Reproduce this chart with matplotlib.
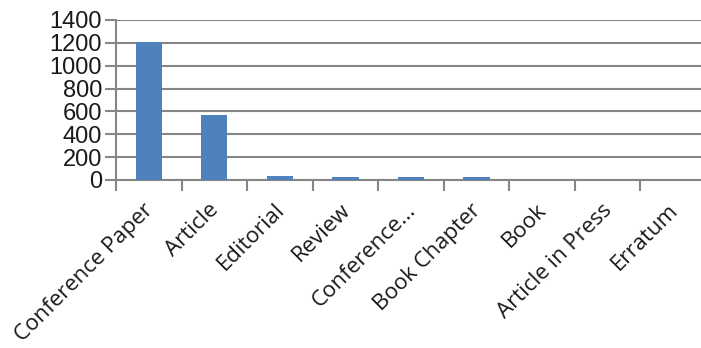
import matplotlib.pyplot as plt
from matplotlib.transforms import ScaledTranslation

# Document types and their counts
doc_types = ['Conference Paper', 'Article', 'Editorial', 'Review', 'Conference...',
             'Book Chapter', 'Book', 'Article in Press', 'Erratum']
counts = [1210, 566, 38, 30, 28, 28, 2, 1, 1]
y_ticks = [0, 200, 400, 600, 800, 1000, 1200, 1400]

grey = '#868686'

fig = plt.figure(figsize=(7.01, 3.48), dpi=100)
ax = fig.add_axes([116 / 701, (348 - 180) / 348, 590 / 701, 160 / 348])

x = list(range(len(doc_types)))
ax.bar(x, counts, width=0.4, color='#4F81BD', zorder=3)

ax.set_xlim(-0.5, len(doc_types) - 0.5)
ax.set_ylim(0, 1400)
ax.set_yticks(y_ticks)
ax.set_yticklabels([str(v) for v in y_ticks], fontsize=17, family='Liberation Sans',
                   color='#1a1a1a')
ax.yaxis.grid(True, color=grey, linewidth=1.5, zorder=0)

# category boundaries carry the x ticks, labels sit at the centres
ax.set_xticks([i - 0.5 for i in x] + [len(x) - 0.5])
ax.set_xticklabels([])
ax.set_xticks(x, minor=True)
ax.set_xticklabels(doc_types, minor=True, rotation=45, ha='right',
                   rotation_mode='anchor', fontsize=16, family='Open Sans',
                   color='#1a1a1a')
ax.tick_params(axis='x', which='minor', length=0, pad=14)
ax.tick_params(axis='x', which='major', length=8, width=1.5, color=grey)
ax.tick_params(axis='y', length=8, width=1.5, color=grey, pad=2)

# nudge the slanted labels a little to the left
shift = ScaledTranslation(-0.06, 0, fig.dpi_scale_trans)
for lbl in ax.get_xticklabels(minor=True):
    lbl.set_transform(lbl.get_transform() + shift)

for side in ['top', 'right']:
    ax.spines[side].set_visible(False)
for side in ['left', 'bottom']:
    ax.spines[side].set_color(grey)
    ax.spines[side].set_linewidth(1.5)

fig.savefig('out.png', dpi=100)
